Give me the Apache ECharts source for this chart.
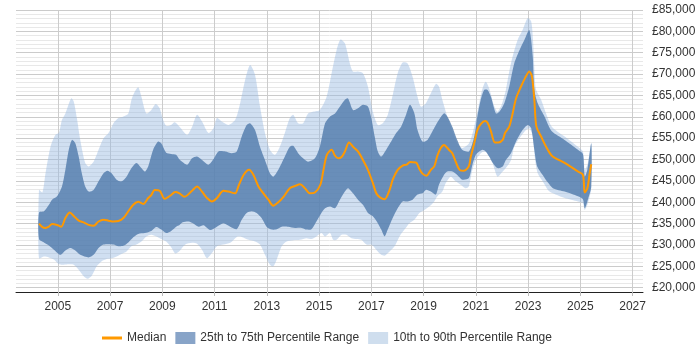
<!DOCTYPE html>
<html>
<head>
<meta charset="utf-8">
<script src="https://cdn.jsdelivr.net/npm/echarts@6/dist/echarts.min.js"></script>
<style>
  html, body { margin: 0; padding: 0; background: #fff; }
  #main { width: 700px; height: 350px; }
</style>
</head>
<body>
<div id="main"></div>
<script>
// 刻度
var yearTicks = [2005, 2007, 2009, 2011, 2013, 2015, 2017, 2019, 2021, 2023, 2025, 2027]

// [年份, 薪资]
var median = [
  [2004.28, 35000], [2004.41, 34200], [2004.53, 34000], [2004.66, 34300], [2004.78, 34900], [2004.97, 34700],
  [2005.13, 34300], [2005.29, 36300], [2005.46, 37600], [2005.61, 36800], [2005.80, 35700], [2005.99, 35300],
  [2006.18, 34700], [2006.37, 34500], [2006.56, 35500], [2006.75, 35900], [2006.94, 35700], [2007.13, 35500],
  [2007.32, 35600], [2007.51, 36300], [2007.70, 37900], [2007.89, 39400], [2008.08, 40100], [2008.27, 39600],
  [2008.46, 41000], [2008.58, 41700], [2008.71, 42900], [2008.90, 42700], [2009.09, 40800], [2009.22, 41200],
  [2009.34, 41700], [2009.49, 42400], [2009.66, 42100], [2009.85, 41300], [2010.14, 42700], [2010.33, 43700],
  [2010.52, 42500], [2010.71, 41000], [2010.90, 40200], [2011.09, 41000], [2011.34, 42700], [2011.53, 42500],
  [2011.79, 42100], [2011.91, 43700], [2012.11, 46400], [2012.32, 47600], [2012.49, 46400], [2012.68, 43700],
  [2012.87, 42100], [2013.06, 40600], [2013.25, 39200], [2013.44, 40000], [2013.63, 41200], [2013.88, 43300],
  [2014.08, 43800], [2014.27, 44200], [2014.46, 43300], [2014.65, 42100], [2014.84, 42300], [2015.05, 44100],
  [2015.17, 47600], [2015.30, 51100], [2015.48, 52300], [2015.61, 50900], [2015.73, 50300], [2015.86, 50600],
  [2015.99, 51900], [2016.15, 54000], [2016.30, 53000], [2016.49, 51900], [2016.68, 49900], [2016.87, 47600],
  [2017.06, 44500], [2017.19, 42100], [2017.32, 41200], [2017.51, 40700], [2017.70, 42900], [2017.82, 45300],
  [2018.01, 47600], [2018.20, 48600], [2018.35, 48800], [2018.48, 49400], [2018.71, 49300], [2018.84, 47800],
  [2018.96, 46700], [2019.11, 46200], [2019.28, 47600], [2019.41, 48400], [2019.53, 50900], [2019.66, 52700],
  [2019.78, 53400], [2019.97, 52300], [2020.10, 51500], [2020.23, 49500], [2020.38, 47600], [2020.54, 47400],
  [2020.73, 48400], [2020.81, 50700], [2020.94, 53800], [2021.06, 56900], [2021.19, 58300], [2021.35, 59000],
  [2021.45, 58600], [2021.58, 56600], [2021.73, 54000], [2021.86, 54000], [2022.03, 54600], [2022.12, 56200],
  [2022.28, 57700], [2022.41, 60800], [2022.54, 64300], [2022.73, 67100], [2022.88, 69000], [2023.05, 70600],
  [2023.15, 69400], [2023.24, 64000], [2023.32, 57700], [2023.50, 55400], [2023.69, 53000], [2023.91, 50900],
  [2024.40, 49200], [2024.91, 47200], [2025.10, 46400], [2025.17, 42300], [2025.27, 43300], [2025.36, 46800],
  [2025.42, 48900]
]

var p25 = [
  [2004.28, 31400], [2004.47, 30600], [2004.66, 29900], [2004.85, 28900], [2005.10, 27700], [2005.29, 28700],
  [2005.48, 29300], [2005.67, 28700], [2005.86, 27700], [2006.18, 27100], [2006.37, 27700], [2006.56, 29300],
  [2006.75, 30100], [2006.94, 30200], [2007.13, 30100], [2007.32, 29700], [2007.51, 29800], [2007.70, 30600],
  [2007.89, 31800], [2008.08, 32600], [2008.33, 32800], [2008.58, 33300], [2008.77, 34200], [2008.96, 33600],
  [2009.15, 32800], [2009.34, 33300], [2009.53, 34300], [2009.66, 34700], [2009.78, 35300], [2010.01, 35500],
  [2010.20, 35000], [2010.39, 34300], [2010.58, 34600], [2010.83, 33500], [2011.09, 34300], [2011.34, 35100],
  [2011.60, 34300], [2011.85, 33700], [2012.04, 35900], [2012.23, 37500], [2012.42, 37900], [2012.61, 37500],
  [2012.80, 36300], [2012.99, 34300], [2013.19, 33600], [2013.38, 33700], [2013.57, 34300], [2013.82, 34300],
  [2014.08, 34000], [2014.33, 34000], [2014.52, 33600], [2014.71, 33700], [2014.90, 35500], [2015.09, 37500],
  [2015.23, 38600], [2015.42, 39000], [2015.61, 38600], [2015.80, 40600], [2015.99, 42500], [2016.11, 43300],
  [2016.30, 42100], [2016.49, 40600], [2016.68, 39400], [2016.87, 37500], [2017.06, 36700], [2017.25, 35100],
  [2017.38, 33600], [2017.51, 32000], [2017.63, 33600], [2017.82, 36300], [2018.01, 38600], [2018.20, 40200],
  [2018.39, 40200], [2018.58, 40600], [2018.77, 41800], [2018.96, 42100], [2019.09, 42900], [2019.28, 42500],
  [2019.47, 41800], [2019.59, 44100], [2019.78, 46400], [2019.91, 47200], [2020.10, 47200], [2020.29, 46400],
  [2020.48, 45300], [2020.73, 45600], [2020.87, 48800], [2021.00, 51100], [2021.13, 51900], [2021.26, 52300],
  [2021.38, 51900], [2021.51, 50700], [2021.64, 49300], [2021.83, 48000], [2022.03, 48400], [2022.15, 49900],
  [2022.35, 51500], [2022.54, 54200], [2022.79, 56900], [2022.99, 58100], [2023.12, 57300], [2023.24, 52300],
  [2023.35, 48400], [2023.56, 46400], [2023.76, 44600], [2023.95, 43300], [2024.40, 42500], [2024.91, 41400],
  [2025.10, 40700], [2025.17, 38600], [2025.27, 40200], [2025.42, 43700]
]

var p75 = [
  [2004.28, 37600], [2004.47, 37900], [2004.66, 39400], [2004.78, 40600], [2004.97, 41400], [2005.16, 43700],
  [2005.29, 47600], [2005.42, 52300], [2005.54, 54600], [2005.67, 53800], [2005.80, 50700], [2005.92, 46800],
  [2006.05, 43700], [2006.18, 42500], [2006.37, 42900], [2006.56, 44900], [2006.75, 46800], [2006.90, 47400],
  [2007.06, 46800], [2007.25, 45300], [2007.44, 44900], [2007.63, 46000], [2007.82, 48000], [2008.01, 49200],
  [2008.20, 48000], [2008.33, 47200], [2008.46, 48400], [2008.65, 52300], [2008.84, 54200], [2008.96, 53800],
  [2009.15, 51600], [2009.34, 51300], [2009.53, 51100], [2009.66, 50000], [2009.95, 48800], [2010.14, 50300],
  [2010.33, 50700], [2010.52, 49900], [2010.77, 48800], [2010.96, 50100], [2011.15, 51900], [2011.41, 51900],
  [2011.66, 51500], [2011.85, 51900], [2012.04, 55400], [2012.23, 58100], [2012.36, 58500], [2012.55, 56900],
  [2012.74, 53000], [2012.93, 49900], [2013.12, 46800], [2013.25, 46000], [2013.44, 47600], [2013.69, 50700],
  [2013.88, 53000], [2014.01, 53200], [2014.20, 51500], [2014.39, 50300], [2014.58, 49500], [2014.84, 50300],
  [2015.03, 53000], [2015.23, 58500], [2015.42, 60100], [2015.61, 60800], [2015.80, 62400], [2015.99, 64000],
  [2016.11, 64300], [2016.30, 61600], [2016.49, 62000], [2016.68, 62800], [2016.87, 62400], [2017.00, 59700],
  [2017.13, 55400], [2017.25, 51900], [2017.38, 50700], [2017.57, 52300], [2017.76, 54200], [2017.95, 56200],
  [2018.14, 57700], [2018.33, 60500], [2018.48, 62800], [2018.65, 60800], [2018.77, 56900], [2018.96, 54200],
  [2019.15, 54600], [2019.34, 56600], [2019.59, 59300], [2019.78, 60800], [2019.91, 60100], [2020.10, 57700],
  [2020.29, 54600], [2020.48, 52300], [2020.74, 51900], [2020.94, 55400], [2021.06, 60100], [2021.19, 64000],
  [2021.32, 66300], [2021.45, 66300], [2021.58, 64700], [2021.77, 60800], [2021.90, 61200], [2022.09, 63200],
  [2022.28, 67100], [2022.47, 72500], [2022.67, 75600], [2022.86, 78000], [2023.05, 80300], [2023.18, 74100],
  [2023.24, 66300], [2023.37, 63200], [2023.63, 60100], [2023.91, 56600], [2024.40, 54600], [2024.91, 52300],
  [2025.10, 51300], [2025.17, 46000], [2025.27, 47600], [2025.42, 53800]
]

var p10 = [
  [2004.28, 26900], [2004.47, 27300], [2004.66, 27100], [2004.85, 26600], [2005.04, 25500], [2005.23, 25400],
  [2005.42, 25500], [2005.61, 25400], [2005.80, 24200], [2005.99, 22700], [2006.14, 22100], [2006.30, 22800],
  [2006.49, 25000], [2006.68, 26200], [2006.87, 26700], [2007.06, 26900], [2007.25, 27300], [2007.44, 27900],
  [2007.63, 28500], [2007.82, 29700], [2008.01, 30100], [2008.20, 30800], [2008.39, 32000], [2008.58, 32400],
  [2008.77, 32000], [2008.96, 31400], [2009.15, 30800], [2009.34, 29500], [2009.50, 28000], [2009.66, 28600],
  [2009.88, 30100], [2010.14, 30500], [2010.33, 30300], [2010.52, 28900], [2010.71, 26900], [2010.90, 28100],
  [2011.09, 29700], [2011.34, 30100], [2011.60, 30500], [2011.85, 31900], [2012.04, 31900], [2012.30, 31200],
  [2012.55, 30800], [2012.74, 30100], [2012.93, 27700], [2013.12, 25400], [2013.25, 25000], [2013.38, 26600],
  [2013.57, 29700], [2013.76, 30800], [2014.01, 31100], [2014.27, 31200], [2014.52, 31600], [2014.71, 31400],
  [2014.90, 32000], [2015.09, 32800], [2015.23, 32000], [2015.42, 32800], [2015.54, 31200], [2015.67, 31200],
  [2015.86, 32400], [2016.05, 32400], [2016.24, 31600], [2016.43, 31400], [2016.62, 31200], [2016.81, 30100],
  [2017.00, 30100], [2017.19, 28900], [2017.38, 27700], [2017.51, 27500], [2017.70, 28500], [2017.89, 29700],
  [2018.08, 32000], [2018.27, 33600], [2018.46, 35100], [2018.65, 35900], [2018.84, 37500], [2019.03, 38200],
  [2019.22, 39000], [2019.41, 40200], [2019.53, 41400], [2019.72, 42500], [2019.85, 44500], [2020.04, 46000],
  [2020.23, 44900], [2020.42, 44100], [2020.61, 43300], [2020.73, 43700], [2020.87, 47600], [2021.00, 49900],
  [2021.19, 51500], [2021.32, 51900], [2021.45, 51500], [2021.64, 49200], [2021.83, 46000], [2022.03, 47200],
  [2022.15, 48000], [2022.35, 49900], [2022.47, 53000], [2022.67, 55000], [2022.92, 56900], [2023.05, 57300],
  [2023.18, 55400], [2023.27, 49900], [2023.37, 46800], [2023.56, 44900], [2023.76, 42900], [2023.95, 42100],
  [2024.40, 41000], [2024.91, 40200], [2025.10, 39800], [2025.17, 38200], [2025.27, 39400], [2025.42, 43300]
]

var p90 = [
  [2004.28, 42900], [2004.41, 42300], [2004.53, 46800], [2004.72, 53000], [2004.91, 55800], [2005.04, 56200],
  [2005.16, 59300], [2005.29, 60800], [2005.51, 64300], [2005.61, 63600], [2005.73, 59700], [2005.86, 54600],
  [2006.05, 49200], [2006.18, 48400], [2006.37, 49500], [2006.56, 52300], [2006.75, 55000], [2006.94, 56200],
  [2007.13, 58500], [2007.32, 59700], [2007.51, 60100], [2007.70, 60800], [2007.82, 64000], [2007.95, 65900],
  [2008.08, 66900], [2008.20, 64700], [2008.39, 60800], [2008.58, 61600], [2008.75, 63000], [2008.90, 62000],
  [2009.03, 59300], [2009.15, 57900], [2009.34, 58100], [2009.47, 58700], [2009.66, 57700], [2009.95, 55800],
  [2010.14, 57700], [2010.33, 60500], [2010.52, 58900], [2010.77, 56200], [2010.96, 57300], [2011.09, 59700],
  [2011.28, 58900], [2011.53, 58100], [2011.79, 59300], [2011.98, 63200], [2012.17, 68600], [2012.36, 72100],
  [2012.55, 69800], [2012.74, 62400], [2012.93, 56200], [2013.12, 52300], [2013.31, 51100], [2013.50, 53000],
  [2013.69, 56200], [2013.88, 59700], [2014.01, 60500], [2014.20, 58500], [2014.39, 58500], [2014.58, 60800],
  [2014.77, 61200], [2015.03, 61600], [2015.29, 64700], [2015.48, 70200], [2015.67, 75600], [2015.82, 78100],
  [2015.99, 77200], [2016.18, 72500], [2016.30, 70600], [2016.49, 70600], [2016.68, 70200], [2016.87, 67100],
  [2017.06, 61200], [2017.25, 58100], [2017.44, 58500], [2017.63, 60500], [2017.82, 65100], [2018.01, 70200],
  [2018.20, 72700], [2018.39, 72500], [2018.58, 69400], [2018.77, 64700], [2018.90, 62400], [2019.09, 63200],
  [2019.28, 65500], [2019.47, 67700], [2019.59, 67100], [2019.72, 64000], [2019.91, 60100], [2020.10, 56900],
  [2020.29, 53800], [2020.48, 52700], [2020.74, 53800], [2020.94, 57700], [2021.13, 63200], [2021.26, 66700],
  [2021.38, 68200], [2021.51, 66700], [2021.71, 62400], [2021.83, 61200], [2021.96, 62400], [2022.03, 63600],
  [2022.15, 66300], [2022.28, 70600], [2022.41, 74100], [2022.60, 78000], [2022.79, 80300], [2022.99, 83100],
  [2023.12, 82300], [2023.19, 78000], [2023.27, 67900], [2023.31, 66300], [2023.50, 64000], [2023.69, 60800],
  [2023.91, 57700], [2024.40, 55400], [2024.91, 53000], [2025.10, 51900], [2025.17, 47600], [2025.29, 49200],
  [2025.42, 53800]
]

var chart = echarts.init(document.getElementById('main'))
var font = 'Liberation Sans, Arial, sans-serif'

// 上下两条线围成的区域
function bandPoints(upper, lower, api) {
  var top = upper.map(function (p) { return api.coord(p) })
  var bottom = lower.slice().reverse().map(function (p) { return api.coord(p) })
  return top.concat(bottom)
}

var option = {
  animation: false,
  textStyle: { fontFamily: font },
  grid: {
    left: 16,
    right: 57,
    top: 10,
    bottom: 58
  },
  legend: {
    left: 97,
    top: 327,
    itemWidth: 20,
    itemHeight: 12,
    itemGap: 9,
    symbolKeepAspect: true,
    textStyle: { fontSize: 12, color: '#333', fontFamily: font },
    data: [
      { name: 'Median', icon: 'path://M0,0H20V3H0Z', itemStyle: { color: '#ff9900' } },
      { name: '25th to 75th Percentile Range', icon: 'rect', itemStyle: { color: '#88a4c8' } },
      { name: '10th to 90th Percentile Range', icon: 'rect', itemStyle: { color: '#cfdeee' } }
    ]
  },
  xAxis: {
    type: 'value',
    min: 2003.4,
    max: 2027.4,
    axisLine: { lineStyle: { color: '#222', width: 1 } },
    axisTick: {
      show: true,
      length: 4,
      customValues: yearTicks,
      lineStyle: { color: '#bbb' }
    },
    axisLabel: {
      customValues: yearTicks,
      formatter: function (v) { return String(v) },
      color: '#333',
      fontSize: 12,
      margin: 9
    },
    splitLine: { show: true, lineStyle: { color: '#ccc' } }
  },
  yAxis: {
    type: 'value',
    position: 'right',
    min: 19000,
    max: 85000,
    interval: 1000,
    axisLine: { show: false },
    axisTick: { show: false },
    axisLabel: {
      color: '#333',
      fontSize: 12,
      margin: 9,
      formatter: function (v) {
        return v % 5000 === 0 ? '£' + v.toLocaleString('en-GB') : ''
      }
    },
    splitLine: {
      show: true,
      lineStyle: { color: ['#e8e8e8', '#cbcbcb', '#e8e8e8', '#e8e8e8', '#e8e8e8'] }
    }
  },
  series: [
    {
      name: '10th to 90th Percentile Range',
      type: 'custom',
      data: [[2010, 40000]],
      z: 1,
      itemStyle: { color: '#cfdeee' },
      renderItem: function (params, api) {
        return {
          type: 'polygon',
          shape: { points: bandPoints(p90, p10, api), smooth: 0.25 },
          style: { fill: 'rgba(150,185,225,0.45)' }
        }
      }
    },
    {
      name: '25th to 75th Percentile Range',
      type: 'custom',
      data: [[2010, 40000]],
      z: 2,
      itemStyle: { color: '#88a4c8' },
      renderItem: function (params, api) {
        return {
          type: 'polygon',
          shape: { points: bandPoints(p75, p25, api), smooth: 0.25 },
          style: { fill: 'rgba(80,123,171,0.8)' }
        }
      }
    },
    {
      name: 'Median',
      type: 'line',
      z: 3,
      data: median,
      symbol: 'none',
      smooth: 0.3,
      lineStyle: { color: '#ff9900', width: 2 },
      itemStyle: { color: '#ff9900' }
    }
  ]
}

chart.setOption(option)
</script>
</body>
</html>
